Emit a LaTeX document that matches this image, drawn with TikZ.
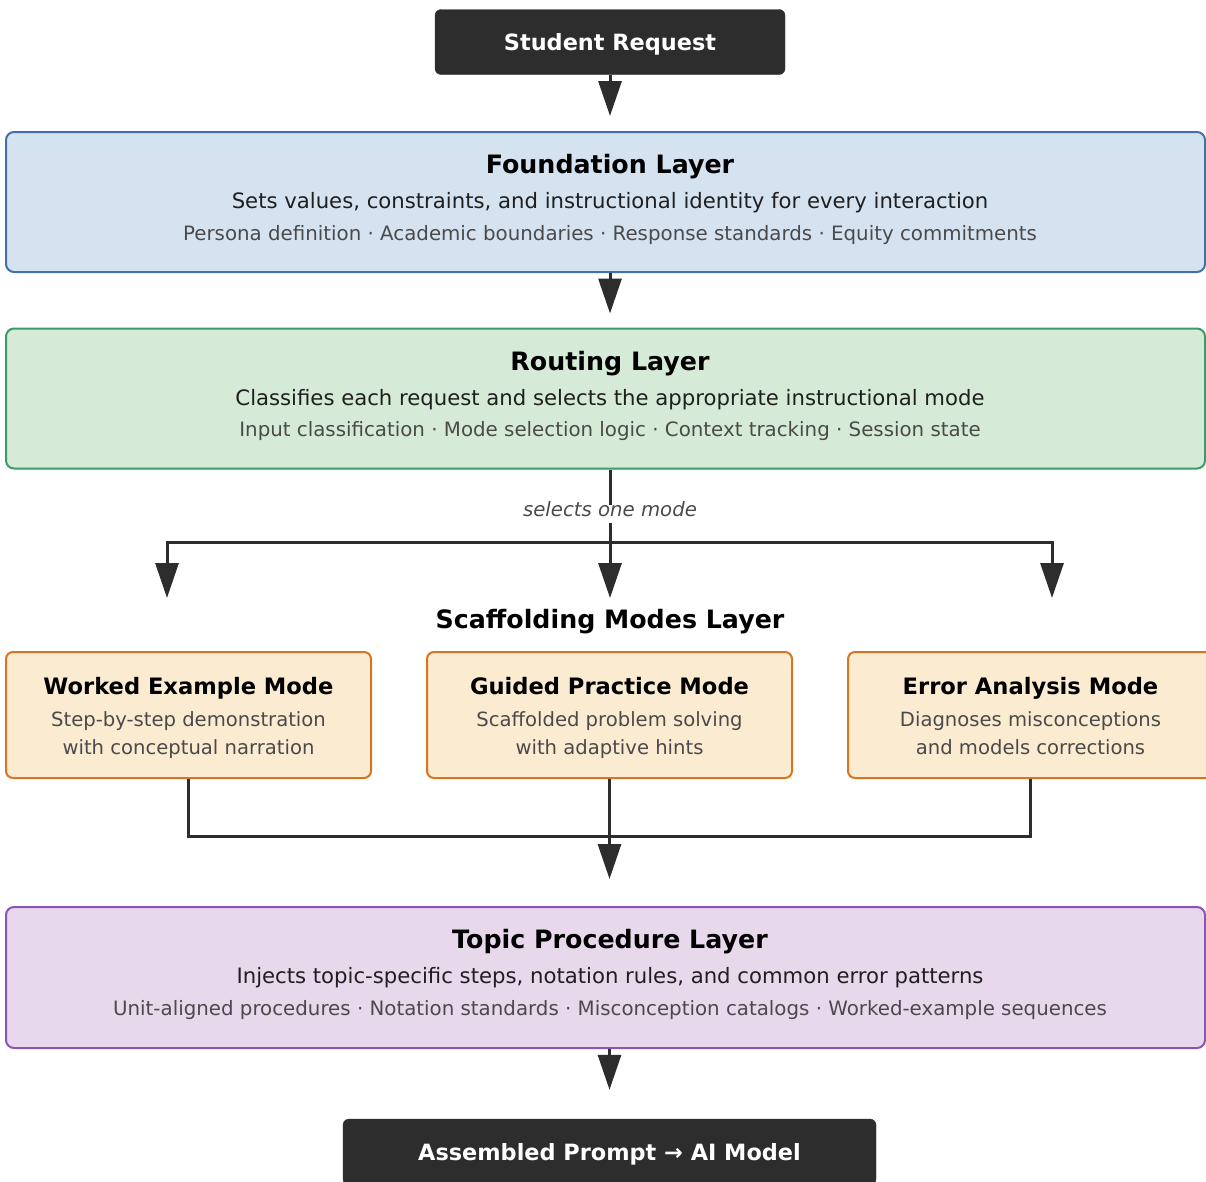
\documentclass[tikz,border=0pt]{standalone}
\usepackage{fontspec}
\setmainfont{DejaVu Sans}
\usetikzlibrary{arrows.meta}

\definecolor{inkdark}{HTML}{2D2D2D}
\definecolor{foundfill}{HTML}{D5E3F1}
\definecolor{foundline}{HTML}{4171A8}
\definecolor{routefill}{HTML}{D5EBD8}
\definecolor{routeline}{HTML}{3E9A68}
\definecolor{modefill}{HTML}{FBEBD0}
\definecolor{modeline}{HTML}{D97520}
\definecolor{topicfill}{HTML}{E7D8EC}
\definecolor{topicline}{HTML}{8A55B8}
\definecolor{subgray}{HTML}{4A4A4A}

\tikzset{
  txt/.style={text height=0.72em, text depth=0.2em, yshift=-4pt},
  endbox/.style={fill=inkdark, draw=inkdark, rounded corners=6pt, text=white,
    text height=17pt, text depth=0.6pt, font=\fontsize{22.4}{26}\selectfont\bfseries},
  layer/.style={line width=2pt, rounded corners=8pt, minimum width=1199pt, minimum height=140pt},
  modebox/.style={draw=modeline, fill=modefill, line width=2pt, rounded corners=7pt,
    minimum width=365pt, minimum height=126pt},
  title/.style={txt, font=\fontsize{25.3}{30}\selectfont\bfseries, text=black},
  modetitle/.style={txt, font=\fontsize{22.6}{27}\selectfont\bfseries, text=black},
  desc/.style={txt, font=\fontsize{21.2}{25}\selectfont, text=black!88},
  items/.style={txt, font=\fontsize{19.8}{23}\selectfont, text=subgray},
  modedesc/.style={txt, font=\fontsize{19.6}{23}\selectfont, text=subgray},
  sel/.style={txt, font=\fontsize{19.7}{23}\selectfont\itshape, text=subgray, inner sep=4pt},
  flow/.style={line width=3pt, draw=inkdark, -{Triangle[length=35pt,width=23pt]}},
  link/.style={line width=3pt, draw=inkdark},
}

\begin{document}
\begin{tikzpicture}[x=1pt,y=-1pt]
  \clip (0,0) rectangle (1206,1181);

  % request
  \node[endbox, minimum width=350pt, minimum height=65pt] (req) at (610,42) {Student Request};

  % foundation layer
  \node[layer, draw=foundline, fill=foundfill] (found) at (605.5,202) {};
  \node[title] (foundT) at (610,167) {Foundation Layer};
  \node[desc] (foundD) at (610,202) {Sets values, constraints, and instructional identity for every interaction};
  \node[items] (foundI) at (610,234) {Persona definition · Academic boundaries · Response standards · Equity commitments};

  % routing layer
  \node[layer, draw=routeline, fill=routefill] (route) at (605.5,398.5) {};
  \node[title] (routeT) at (610,364) {Routing Layer};
  \node[desc] (routeD) at (610,399) {Classifies each request and selects the appropriate instructional mode};
  \node[items] (routeI) at (610,430) {Input classification · Mode selection logic · Context tracking · Session state};

  \draw[flow, shorten >=15pt] (req.south) -- (req.south |- found.north);
  \draw[flow, shorten >=14pt] (req.south |- found.south) -- (req.south |- route.north);

  % fork to the modes
  \node[sel] (sel) at (610,510) {selects one mode};
  \coordinate (fork) at (610,542);
  \coordinate (lefttip) at (167,598);
  \coordinate (midtip) at (610,598);
  \coordinate (righttip) at (1052,598);
  \draw[link] (sel |- route.south) -- (sel.north);
  \draw[flow] (sel.south) -- (midtip);
  \draw[link, line cap=rect] (lefttip |- fork) -- (righttip |- fork);
  \foreach \tip in {lefttip,righttip}{
    \draw[flow] (fork -| \tip) -- (\tip);
  }

  \node[title] (scaffT) at (610,622) {Scaffolding Modes Layer};

  % mode boxes
  \foreach \n/\x/\t/\a/\b in {
      worked/188.5/Worked Example Mode/Step-by-step demonstration/with conceptual narration,
      guided/609.5/Guided Practice Mode/Scaffolded problem solving/with adaptive hints,
      error/1030.5/Error Analysis Mode/Diagnoses misconceptions/and models corrections}{
    \node[modebox] (\n) at (\x,715) {};
    \node[modetitle] (\n T) at (\x,688) {\t};
    \node[modedesc] (\n A) at (\x,720) {\a};
    \node[modedesc] (\n B) at (\x,748) {\b};
  }

  % topic procedure layer
  \node[layer, draw=topicline, fill=topicfill, minimum height=141pt] (topic) at (605.5,977.5) {};
  \node[title] (topicT) at (610,942) {Topic Procedure Layer};
  \node[desc] (topicD) at (610,977) {Injects topic-specific steps, notation rules, and common error patterns};
  \node[items] (topicI) at (610,1009) {Unit-aligned procedures · Notation standards · Misconception catalogs · Worked-example sequences};

  % merge
  \coordinate (join) at (610,836);
  \draw[link] (worked.south) |- (join);
  \draw[link] (error.south) |- (join);
  \draw[flow, shorten >=27pt] (guided.south) -- (guided.south |- topic.north);

  % output
  \node[endbox, minimum width=533pt, minimum height=66pt] (out) at (609.5,1152) {Assembled Prompt → AI Model};
  \draw[flow, shorten >=29pt] (out |- topic.south) -- (out.north);
\end{tikzpicture}
\end{document}
